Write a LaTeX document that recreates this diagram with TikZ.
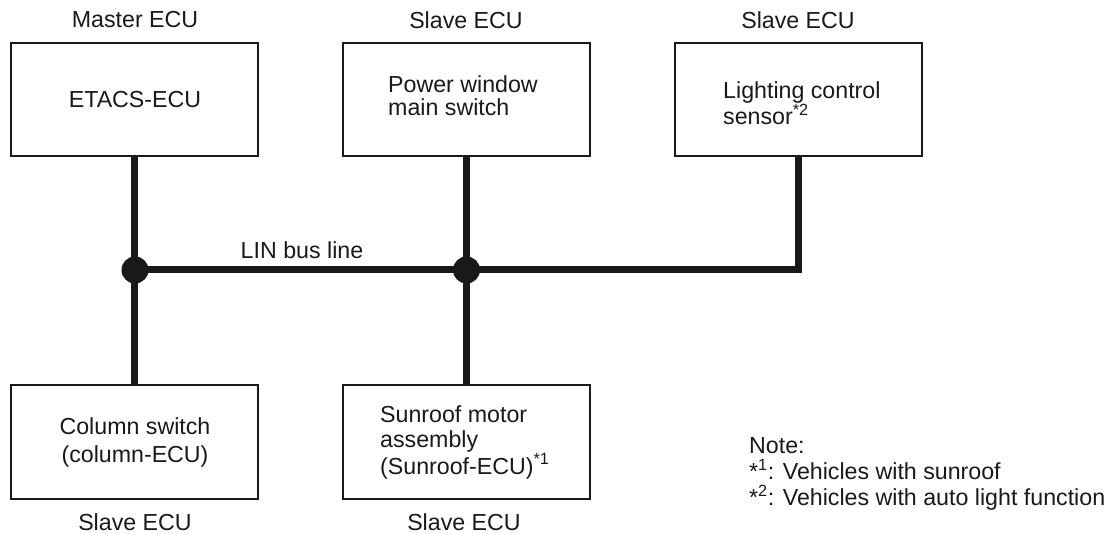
\documentclass[tikz,border=0pt]{standalone}
\usepackage{fontspec}
\setmainfont{Liberation Sans}
\begin{document}
\begin{tikzpicture}[x=1pt,y=-1pt,
  box/.style={draw=black!90, line width=2pt, minimum width=247pt, minimum height=113pt, inner sep=0pt, fill=white},
  bus/.style={line width=7pt, draw=black!90, line join=miter},
  dot/.style={circle, fill=black!90, inner sep=0pt, minimum size=27pt},
  lbl/.style={font=\fontsize{23.2}{25}\selectfont, inner sep=0pt, text=black!90}]
\useasboundingbox (0,0) rectangle (1117,534);
% boxes
\node[box] (b1) at (134.5,99.5) {};
\node[box] (b2) at (466.5,99.5) {};
\node[box] (b3) at (798,99.5) {};
\node[box] (b4) at (134.5,442) {};
\node[box] (b5) at (466.5,442) {};
% junctions
\coordinate (j1) at (135,270);
\coordinate (j2) at (466.5,270);
% bus lines
\draw[bus] (b1.south) -- (b4.north);
\draw[bus] (b2.south) -- (b5.north);
\draw[bus] (j1) -- (j2) -| (b3.south);
\node[dot] (d1) at (j1) {};
\node[dot] (d2) at (j2) {};
% box texts
\node[lbl] (t1) at (135,100) {ETACS-ECU};
\node[lbl, anchor=west, align=left, font=\fontsize{23.2}{23}\selectfont] (t2) at (388,96) {Power window\\main switch};
\node[lbl, anchor=west, align=left] (t3) at (723,103) {Lighting control\\sensor\textsuperscript{*2}};
\node[lbl, align=center, font=\fontsize{23.2}{28}\selectfont] (t4) at (135,442.5) {Column switch\\(column-ECU)};
\node[lbl, anchor=west, align=left] (t5) at (380,442.5) {Sunroof motor\\assembly\\(Sunroof-ECU)\textsuperscript{*1}};
% role labels
\node[lbl] (r1) at (135,20) {Master ECU};
\node[lbl] (r2) at (466,20) {Slave ECU};
\node[lbl] (r3) at (798,20) {Slave ECU};
\node[lbl] (r4) at (135,522) {Slave ECU};
\node[lbl] (r5) at (464,522) {Slave ECU};
% bus label
\node[lbl] (lin) at (302,250) {LIN bus line};
% note
\node[lbl, anchor=west, align=left, font=\fontsize{23.2}{26}\selectfont] (note) at (749,474) {Note:\\*\textsuperscript{1}: Vehicles with sunroof\\*\textsuperscript{2}: Vehicles with auto light function};
\end{tikzpicture}
\end{document}
